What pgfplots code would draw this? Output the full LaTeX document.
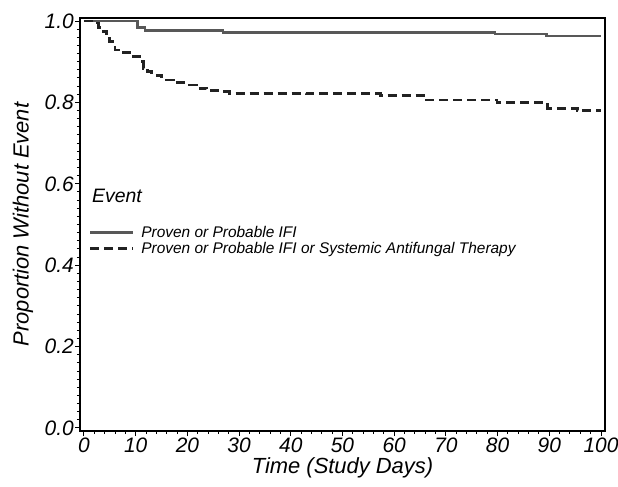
\documentclass[border=0pt]{standalone}
\usepackage{fontspec}
\setmainfont{Liberation Sans}
\usepackage{pgfplots}
\pgfplotsset{compat=1.18}
\definecolor{solidgray}{RGB}{88,88,88}
\definecolor{dashdark}{RGB}{34,34,34}
\begin{document}
\begin{tikzpicture}
\begin{axis}[
  scale only axis,
  width=525bp, height=413bp,
  xmin=-0.77, xmax=100.77,
  ymin=-0.0074, ymax=1.0074,
  axis line style={line width=1.6bp},
  xtick pos=bottom, ytick pos=left,
  xtick={0,10,...,100},
  ytick={0,0.2,...,1.0},
  minor x tick num=4,
  minor y tick num=9,
  tick align=outside,
  major tick length=5bp, minor tick length=3bp,
  every tick/.style={black, line width=1bp},
  /pgf/number format/assume math mode=true,
  tick label style={font=\fontsize{21}{23}\selectfont\itshape},
  yticklabel style={inner sep=1bp, /pgf/number format/.cd, fixed, fixed zerofill, precision=1},
  xticklabel style={inner sep=1bp, yshift=-1bp},
  xlabel={Time (Study Days)},
  ylabel={Proportion Without Event},
  label style={font=\fontsize{22}{24}\selectfont\itshape},
  xlabel style={at={(axis description cs:0.5,-0.0895)}, anchor=center},
  ylabel style={at={(axis description cs:-0.1086,0.5)}, anchor=center},
  clip=false,
  legend style={draw=none, fill=none, at={(0.016,0.501)}, anchor=north west,
    font=\fontsize{15.5}{17}\selectfont\itshape, row sep=-0.5bp,
    inner sep=0pt, cells={anchor=west}},
  legend image code/.code={\draw[#1] (0bp,0bp) -- (43bp,0bp); \path (48bp,0bp);},
]
\addplot[const plot, solidgray, line width=2.8bp] coordinates {
  (0,1.0) (10.4,0.985) (11.8,0.976) (26.9,0.971) (79.5,0.968) (89.5,0.963) (100,0.963)
};
\addlegendentry{Proven or Probable IFI}
\addplot[const plot, dashdark, line width=2.8bp, dash pattern=on 9bp off 5bp] coordinates {
  (0,1.0) (1.8,0.995) (2.8,0.985) (3.7,0.974) (4.4,0.962) (5.0,0.949) (6.0,0.929)
  (7.3,0.922) (8.9,0.912) (10.8,0.900) (11.5,0.884) (12.3,0.875) (13.1,0.867)
  (15.0,0.855) (17.3,0.848) (19.8,0.843) (21.8,0.835) (23.7,0.829) (26.9,0.826)
  (28.2,0.822) (43.1,0.821) (57.3,0.817) (65.6,0.806) (79.9,0.799) (89.7,0.786)
  (95.4,0.780) (100,0.780)
};
\addlegendentry{Proven or Probable IFI or Systemic Antifungal Therapy}
\node[anchor=west, inner sep=0pt, font=\fontsize{19.5}{21}\selectfont\itshape] at (rel axis cs:0.0228,0.569) {Event};
\end{axis}
\pgfresetboundingbox
\path ([shift={(-80bp,-56bp)}]current axis.south west) rectangle ([shift={(13bp,18bp)}]current axis.north east);
\end{tikzpicture}
\end{document}
